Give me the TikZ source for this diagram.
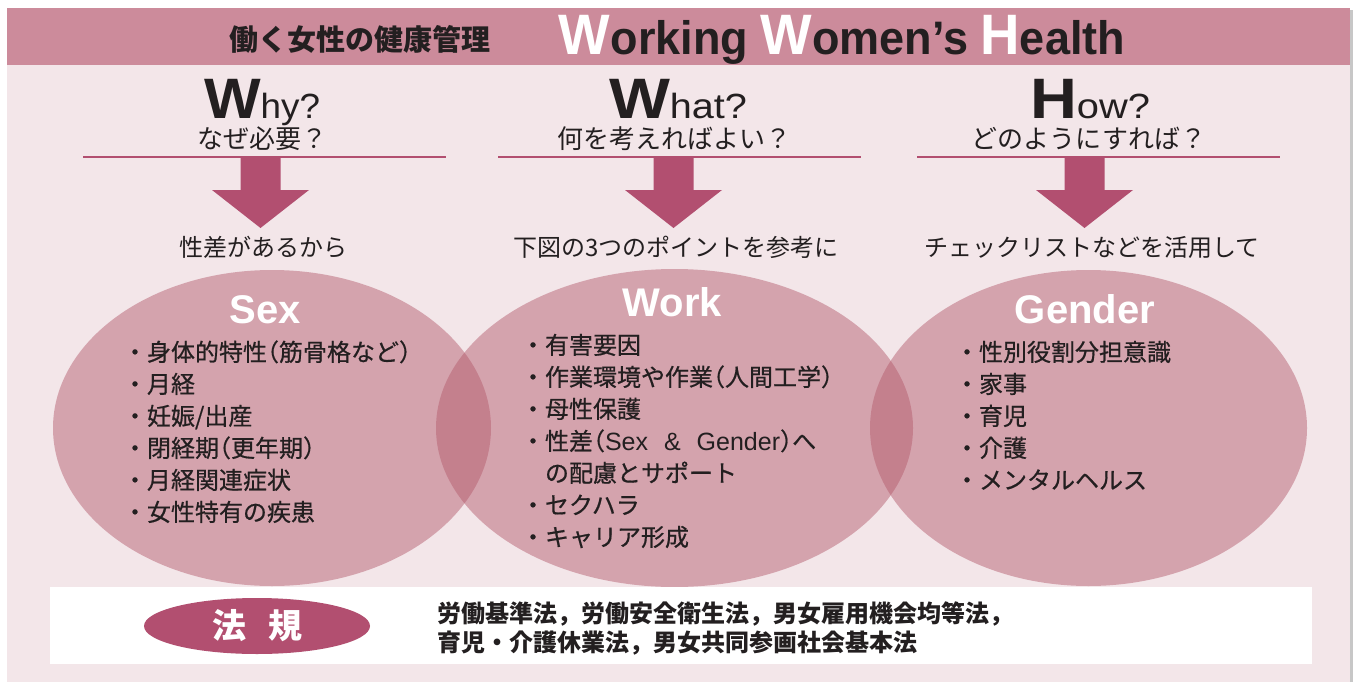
\documentclass[tikz,border=0pt]{standalone}
\usepackage{fontspec}
\usepackage{graphicx}
\usetikzlibrary{shapes.geometric}
\setmainfont{Liberation Sans}
\newfontfamily\jp{Noto Sans CJK JP}
\newfontfamily\jpm[FakeBold=0.6]{Noto Sans CJK JP}
\definecolor{band}{RGB}{204,139,155}
\definecolor{bodybg}{RGB}{243,230,233}
\definecolor{rose}{RGB}{178,79,112}
\definecolor{ellc}{RGB}{179,89,107}
\definecolor{ink}{RGB}{35,31,32}
\newcommand{\fs}[1]{\fontsize{#1}{#1}\selectfont}
\newcommand{\lpar}{\kern-12pt（}
\newcommand{\rpar}{）\kern-12pt}
\tikzset{
  x=1pt, y=-1pt,
  every node/.style={inner sep=0pt, outer sep=0pt, text=ink},
  bigell/.style={ellipse, fill=ellc, fill opacity=0.47, inner sep=0pt},
  item/.style={anchor=base west, font=\jpm\fs{24}},
  bul/.style={anchor=base west, font=\jpm\fs{24}},
  sub/.style={anchor=base, font=\jp\fs{26}},
  lab/.style={anchor=base, font=\jp\fs{24}},
  etitle/.style={anchor=base, font=\bfseries\fs{40}, text=white},
  rule/.style={draw=rose, line width=2.5pt},
  blockarrow/.style={fill=rose},
}
\begin{document}
\begin{tikzpicture}
\useasboundingbox (0,0) rectangle (1356,682);
\fill[white] (0,0) rectangle (1356,682);
\fill[bodybg] (7,8) rectangle (1350,682);
\fill[band] (7,8) rectangle (1350,65);
\fill[black!22] (1350,10) rectangle (1353,682);

% header
\node[anchor=base, font=\jp\bfseries\fs{29}] (hjp) at (360,51) {働く女性の健康管理};
\node[anchor=base] (hen) at (842,55) {\resizebox{566pt}{\height}{\bfseries
  {\color{white}\fs{57}W}{\fs{47}orking }{\color{white}\fs{57}W}{\fs{47}omen’s }{\color{white}\fs{57}H}{\fs{47}ealth}}};

% Why / What / How headings
\node[anchor=base] (why) at (262,118) {\resizebox{116pt}{\height}{{\bfseries\fs{57}W}{\fs{35}hy?}}};
\node[anchor=base] (what) at (678,118) {\resizebox{138pt}{\height}{{\bfseries\fs{57}W}{\fs{35}hat?}}};
\node[anchor=base] (how) at (1090,118) {\resizebox{120pt}{\height}{{\bfseries\fs{57}H}{\fs{35}ow?}}};

\node[sub] (whyj) at (262,148) {なぜ必要？};
\node[sub] (whatj) at (674,148) {何を考えればよい？};
\node[sub] (howj) at (1089,148) {どのようにすれば？};

\draw[rule] (83,157) -- (446,157);
\draw[rule] (498,157) -- (861,157);
\draw[rule] (917,157) -- (1280,157);

% block arrows
\foreach \cx in {260.5,673.5,1084.5}{
  \fill[blockarrow] (\cx-20,158) -- (\cx+20,158) -- (\cx+20,190) -- (\cx+48.5,190)
     -- (\cx,228) -- (\cx-48.5,190) -- (\cx-20,190) -- cycle;
}

\node[lab] (whyl) at (263,256) {性差があるから};
\node[lab] (whatl) at (676,256) {下図の3つのポイントを参考に};
\node[lab] (howl) at (1092,256) {チェックリストなどを活用して};

% ellipses
\node[bigell, minimum width=438pt, minimum height=316pt] (sexE) at (272,428) {};
\node[bigell, minimum width=477pt, minimum height=318pt] (workE) at (674.5,428) {};
\node[bigell, minimum width=437pt, minimum height=316pt] (genE) at (1088.5,428) {};

\node[etitle] (sexT) at (265,323) {Sex};
\node[etitle] (workT) at (672.5,316) {Work};
\node[etitle] (genT) at (1085,323) {Gender};

% Sex list
\foreach \t [count=\i from 0] in {身体的特性\lpar 筋骨格など\rpar,月経,妊娠/出産,閉経期\lpar 更年期\rpar,月経関連症状,女性特有の疾患}{
  \node[bul] (sb\i) at (123,361+32*\i) {・};
  \node[item] (si\i) at (147,361+32*\i) {\t};
}
% Work list
\foreach \t/\b [count=\i from 0] in {有害要因/1,作業環境や作業\lpar 人間工学\rpar/1,母性保護/1,性差\lpar{\rmfamily\mdseries\fs{25}Sex\hspace{16pt}\&\hspace{16pt}Gender}\rpar へ/1,の配慮とサポート/0,セクハラ/1,キャリア形成/1}{
  \ifnum\b=1 \node[bul] (wb\i) at (521,354+32*\i) {・};\fi
  \node[item] (wi\i) at (545,354+32*\i) {\t};
}
% Gender list
\foreach \t [count=\i from 0] in {性別役割分担意識,家事,育児,介護,メンタルヘルス}{
  \node[bul] (gb\i) at (955,361+32*\i) {・};
  \node[item] (gi\i) at (979,361+32*\i) {\t};
}

% law box
\fill[white] (50,587) rectangle (1312,664);
\node[ellipse, fill=rose, minimum width=226pt, minimum height=56pt, text=white,
      font=\jp\bfseries\fs{34}] (lawE) at (257,626) {法\hspace{22pt}規};
\node[anchor=base west, font=\jp\bfseries\fs{24}] (law1) at (437,622) {労働基準法，労働安全衛生法，男女雇用機会均等法，};
\node[anchor=base west, font=\jp\bfseries\fs{24}] (law2) at (437,651) {育児・介護休業法，男女共同参画社会基本法};
\end{tikzpicture}
\end{document}
